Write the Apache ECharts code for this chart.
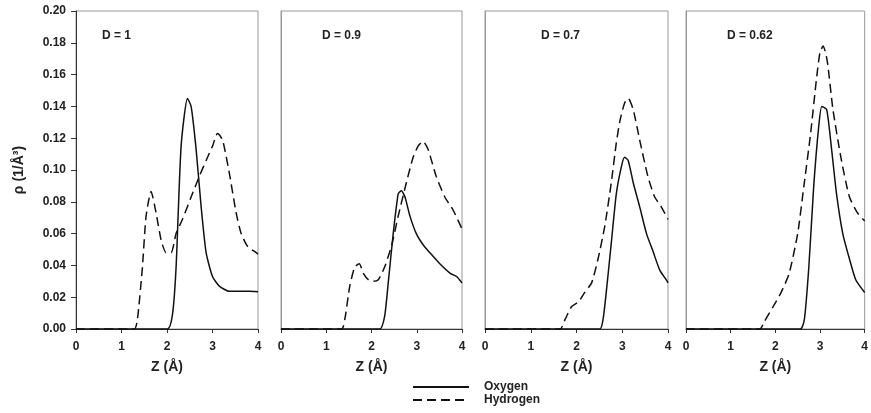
<!DOCTYPE html>
<html>
<head>
<meta charset="utf-8">
<script src="https://cdn.jsdelivr.net/npm/echarts@6/dist/echarts.min.js"></script>
<style>
  html, body { margin: 0; padding: 0; background: #fff; }
  #chart { width: 871px; height: 413px; }
</style>
</head>
<body>
<div id="chart"></div>
<script>
// panel labels (density D)
var panelLabels = ['D = 1', 'D = 0.9', 'D = 0.7', 'D = 0.62']
var xTicks = [0, 1, 2, 3, 4]
var yTicks = [0, 0.02, 0.04, 0.06, 0.08, 0.1, 0.12, 0.14, 0.16, 0.18, 0.2]

// [Z, rho]
var oxygen1 = [[0, 0], [2.01, 0], [2.12, 0.009], [2.2, 0.039], [2.31, 0.115], [2.45, 0.145], [2.53, 0.14],
  [2.64, 0.113], [2.75, 0.077], [2.86, 0.048], [3.0, 0.033], [3.15, 0.027], [3.37, 0.0237], [3.8, 0.0237], [4.0, 0.0235]]
var hydrogen1 = [[0, 0], [1.28, 0], [1.35, 0.006], [1.46, 0.039], [1.54, 0.071], [1.65, 0.0865], [1.76, 0.073],
  [1.87, 0.056], [1.98, 0.048], [2.09, 0.048], [2.2, 0.06], [2.34, 0.069], [2.53, 0.083], [2.71, 0.096],
  [2.86, 0.106], [3.0, 0.115], [3.11, 0.123], [3.22, 0.119], [3.37, 0.098], [3.52, 0.073], [3.63, 0.06],
  [3.77, 0.052], [3.96, 0.048], [4.0, 0.047]]

var oxygen2 = [[0, 0], [2.18, 0], [2.29, 0.008], [2.37, 0.029], [2.48, 0.06], [2.59, 0.085], [2.66, 0.087],
  [2.74, 0.083], [2.85, 0.071], [2.99, 0.06], [3.14, 0.053], [3.29, 0.048], [3.51, 0.041], [3.74, 0.035],
  [3.88, 0.033], [4.0, 0.029]]
var hydrogen2 = [[0, 0], [1.34, 0], [1.41, 0.006], [1.52, 0.027], [1.63, 0.039], [1.73, 0.041], [1.82, 0.035],
  [1.93, 0.031], [2.04, 0.03], [2.15, 0.031], [2.29, 0.039], [2.44, 0.052], [2.59, 0.071], [2.77, 0.092],
  [2.92, 0.108], [3.03, 0.115], [3.14, 0.118], [3.25, 0.113], [3.43, 0.096], [3.62, 0.083], [3.8, 0.075], [4.0, 0.063]]

var oxygen3 = [[0, 0], [2.51, 0], [2.58, 0.006], [2.65, 0.023], [2.76, 0.054], [2.87, 0.085], [2.98, 0.102],
  [3.05, 0.108], [3.13, 0.106], [3.24, 0.092], [3.38, 0.077], [3.53, 0.06], [3.67, 0.049], [3.82, 0.037],
  [3.96, 0.031], [4.0, 0.029]]
var hydrogen3 = [[0, 0], [1.64, 0], [1.75, 0.006], [1.89, 0.014], [2.04, 0.017], [2.18, 0.023], [2.33, 0.029],
  [2.47, 0.044], [2.62, 0.065], [2.76, 0.092], [2.87, 0.117], [2.95, 0.131], [3.05, 0.142], [3.13, 0.145],
  [3.24, 0.138], [3.38, 0.119], [3.56, 0.096], [3.71, 0.083], [3.85, 0.077], [4.0, 0.069]]

var oxygen4 = [[0, 0], [2.56, 0], [2.65, 0.006], [2.75, 0.039], [2.86, 0.09], [2.97, 0.127], [3.04, 0.14],
  [3.15, 0.138], [3.26, 0.113], [3.37, 0.085], [3.51, 0.06], [3.66, 0.044], [3.8, 0.031], [4.0, 0.023]]
var hydrogen4 = [[0, 0], [1.65, 0], [1.76, 0.005], [1.95, 0.014], [2.13, 0.023], [2.31, 0.035], [2.5, 0.06],
  [2.64, 0.09], [2.79, 0.123], [2.92, 0.157], [3.0, 0.174], [3.07, 0.178], [3.16, 0.169], [3.29, 0.138],
  [3.48, 0.106], [3.66, 0.083], [3.84, 0.073], [4.0, 0.068]]

var oxygenSets = [oxygen1, oxygen2, oxygen3, oxygen4]
var hydrogenSets = [hydrogen1, hydrogen2, hydrogen3, hydrogen4]

var boxes = [[76, 182], [281, 181], [485, 183], [686, 182]]
var labelOffsets = [21, 36, 51, 36]
var font = 'Liberation Sans, Arial, sans-serif'
var textColor = '#222'

var chart = echarts.init(document.getElementById('chart'))

var grids = [], xAxes = [], yAxes = [], series = [], titles = []
boxes.forEach(function (b, i) {
  grids.push({ left: b[0], width: b[1], top: 11, height: 318, show: true, borderColor: '#999', borderWidth: 1 })
  xAxes.push({
    type: 'value', gridIndex: i, min: xTicks[0], max: xTicks[xTicks.length - 1], interval: 1,
    name: 'Z (Å)', nameLocation: 'middle', nameGap: 31,
    nameTextStyle: { fontFamily: font, fontWeight: 'bold', fontSize: 14, color: textColor },
    axisLine: { lineStyle: { color: '#333', width: 1 } },
    axisTick: { show: true, length: 4, lineStyle: { color: '#333' } },
    axisLabel: { fontFamily: font, fontWeight: 'bold', fontSize: 12, color: textColor, margin: 12 },
    splitLine: { show: false }
  })
  yAxes.push({
    type: 'value', gridIndex: i, min: yTicks[0], max: yTicks[yTicks.length - 1], interval: 0.02,
    name: i === 0 ? 'ρ (1/Å³)' : '', nameLocation: 'middle', nameGap: 50, nameRotate: 90,
    nameTextStyle: { fontFamily: font, fontWeight: 'bold', fontSize: 14, color: textColor },
    axisLine: { show: true, lineStyle: { color: i === 0 ? '#333' : '#999', width: 1 } },
    axisTick: { show: i === 0, length: 5, lineStyle: { color: '#333' } },
    axisLabel: {
      show: i === 0, fontFamily: font, fontWeight: 'bold', fontSize: 12, color: textColor, margin: 10,
      formatter: function (v) { return v.toFixed(2) }
    },
    splitLine: { show: false }
  })
  titles.push({
    text: panelLabels[i], left: b[0] + labelOffsets[i], top: 25,
    textStyle: { fontFamily: font, fontWeight: 'bold', fontSize: 12, color: textColor }
  })
  series.push({
    name: 'Oxygen', type: 'line', xAxisIndex: i, yAxisIndex: i, data: oxygenSets[i],
    showSymbol: false, symbol: 'none', smooth: 0.2,
    lineStyle: { color: '#111', width: 1.5, type: 'solid' }, itemStyle: { color: '#111' }
  })
  series.push({
    name: 'Hydrogen', type: 'line', xAxisIndex: i, yAxisIndex: i, data: hydrogenSets[i],
    showSymbol: false, symbol: 'none', smooth: 0.2,
    lineStyle: { color: '#111', width: 1.5, type: [9, 5] }, itemStyle: { color: '#111' }
  })
})

var option = {
  animation: false,
  backgroundColor: '#fff',
  title: titles,
  legend: {
    data: ['Oxygen', 'Hydrogen'], orient: 'vertical', left: 412, top: 381, padding: 0,
    itemWidth: 56, itemHeight: 12, itemGap: 1, itemStyle: { opacity: 0 },
    textStyle: { fontFamily: font, fontWeight: 'bold', fontSize: 12, color: textColor, padding: [0, 0, 0, 10] }
  },
  grid: grids,
  xAxis: xAxes,
  yAxis: yAxes,
  series: series
}
chart.setOption(option)
</script>
</body>
</html>
